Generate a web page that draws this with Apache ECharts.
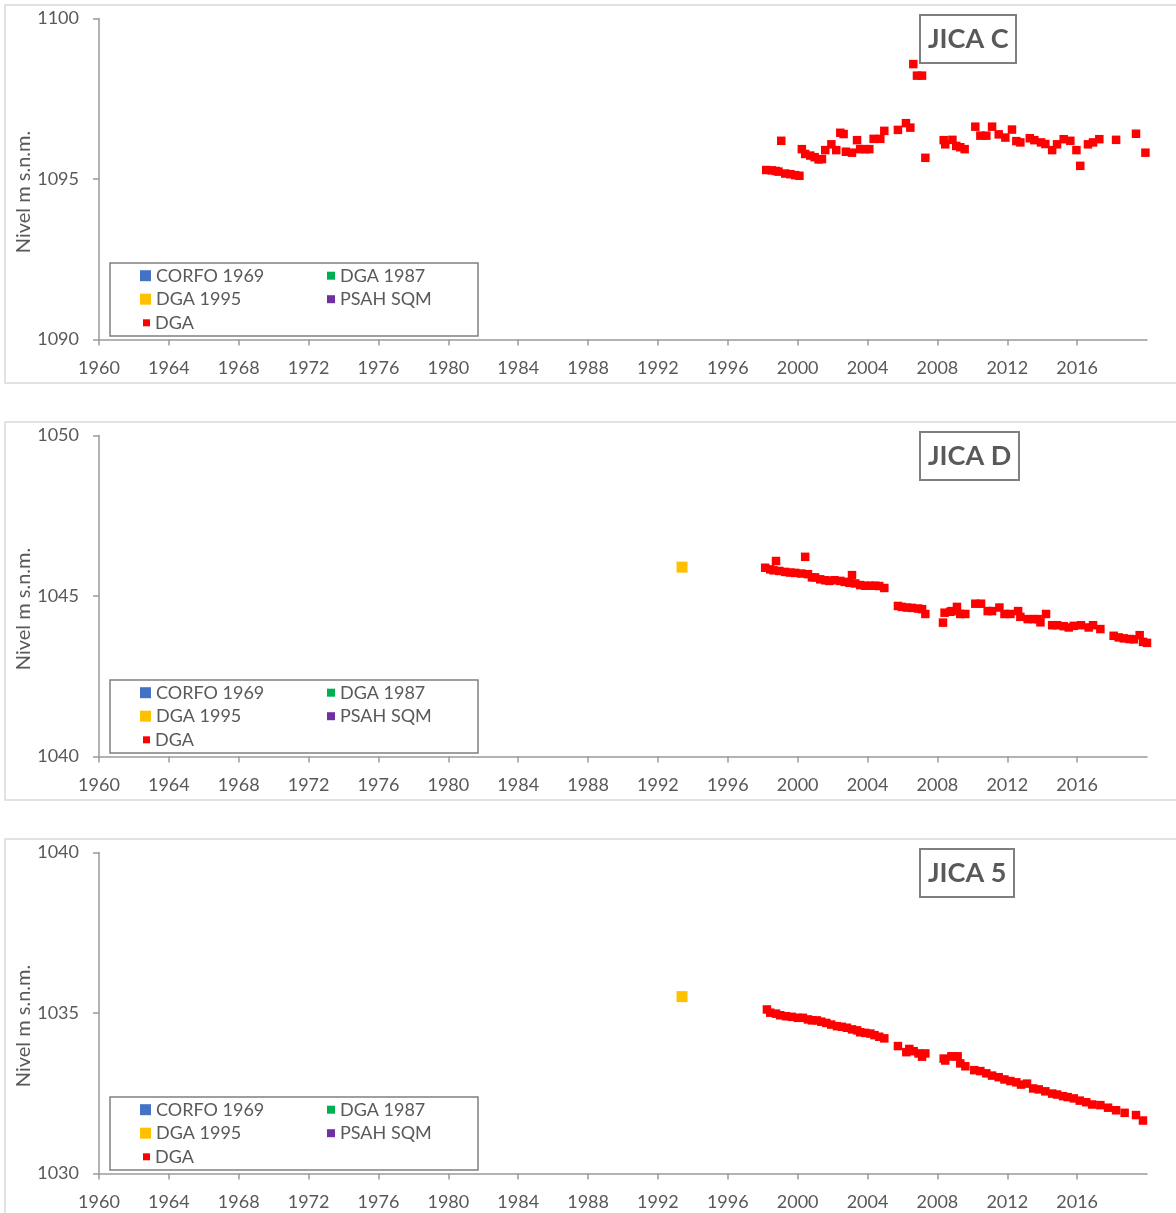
<!DOCTYPE html>
<html>
<head>
<meta charset="utf-8">
<title>Niveles JICA</title>
<script src="https://cdn.jsdelivr.net/npm/echarts@6/dist/echarts.min.js"></script>
<style>
  html, body { margin: 0; padding: 0; background: #fff; }
  #chart { width: 1176px; height: 1213px; }
</style>
</head>
<body>
<div id="chart"></div>
<script>
// Year tick labels shared by the three panels
const xTicks = [1960, 1964, 1968, 1972, 1976, 1980, 1984, 1988, 1992, 1996, 2000, 2004, 2008, 2012, 2016];

const seriesNames = ['CORFO 1969', 'DGA 1987', 'DGA 1995', 'PSAH SQM', 'DGA'];
const seriesColors = ['#4472c4', '#00b050', '#ffc000', '#7030a0', '#ff0000'];

const panelTitles = ['JICA C', 'JICA D', 'JICA 5'];
const panelYMin = [1090, 1040, 1030];
const panelYMax = [1100, 1050, 1040];

// JICA C – DGA measurements [year, m s.n.m.]
const jicaC_DGA = [
  [1998.20, 1095.28], [1998.52, 1095.27], [1998.75, 1095.25], [1998.90, 1095.23],
  [1999.06, 1096.19], [1999.29, 1095.17], [1999.58, 1095.15], [1999.86, 1095.12],
  [2000.10, 1095.10], [2000.24, 1095.93], [2000.43, 1095.78], [2000.72, 1095.73],
  [2000.97, 1095.68], [2001.20, 1095.61], [2001.39, 1095.62], [2001.58, 1095.90],
  [2001.93, 1096.08], [2002.21, 1095.90], [2002.44, 1096.44], [2002.63, 1096.40],
  [2002.76, 1095.85], [2003.11, 1095.82], [2003.40, 1096.21], [2003.58, 1095.93],
  [2003.87, 1095.93], [2004.10, 1095.93], [2004.35, 1096.25], [2004.73, 1096.25],
  [2004.96, 1096.50], [2005.74, 1096.53], [2006.20, 1096.74], [2006.45, 1096.60],
  [2006.62, 1098.58], [2006.83, 1098.22], [2007.12, 1098.22], [2007.31, 1095.66],
  [2008.36, 1096.21], [2008.45, 1096.08], [2008.86, 1096.22], [2009.08, 1096.03],
  [2009.31, 1095.99], [2009.56, 1095.93], [2010.17, 1096.63], [2010.46, 1096.35],
  [2010.80, 1096.35], [2011.13, 1096.63], [2011.51, 1096.39], [2011.89, 1096.29],
  [2012.27, 1096.54], [2012.52, 1096.18], [2012.75, 1096.14], [2013.29, 1096.27],
  [2013.55, 1096.21], [2013.93, 1096.14], [2014.18, 1096.09], [2014.57, 1095.90],
  [2014.85, 1096.08], [2015.23, 1096.24], [2015.61, 1096.19], [2015.96, 1095.90],
  [2016.18, 1095.41], [2016.62, 1096.08], [2016.91, 1096.14], [2017.27, 1096.24],
  [2018.23, 1096.22], [2019.37, 1096.41], [2019.91, 1095.82]
];

// JICA D – DGA measurements
const jicaD_DGA = [
  [1998.14, 1045.88], [1998.43, 1045.83], [1998.62, 1045.80], [1998.76, 1046.09],
  [1998.95, 1045.78], [1999.29, 1045.75], [1999.58, 1045.73], [1999.86, 1045.72],
  [2000.21, 1045.70], [2000.43, 1046.22], [2000.59, 1045.68], [2000.82, 1045.58],
  [2001.00, 1045.58], [2001.29, 1045.52], [2001.58, 1045.49], [2001.81, 1045.47],
  [2002.11, 1045.49], [2002.44, 1045.47], [2002.69, 1045.44], [2002.97, 1045.41],
  [2003.11, 1045.65], [2003.30, 1045.39], [2003.58, 1045.34], [2003.87, 1045.32],
  [2004.16, 1045.32], [2004.44, 1045.32], [2004.67, 1045.31], [2004.96, 1045.25],
  [2005.74, 1044.69], [2005.97, 1044.66], [2006.26, 1044.64], [2006.54, 1044.63],
  [2006.89, 1044.61], [2007.12, 1044.59], [2007.31, 1044.44], [2008.32, 1044.17],
  [2008.41, 1044.48], [2008.74, 1044.51], [2008.83, 1044.53], [2009.12, 1044.66],
  [2009.31, 1044.44], [2009.60, 1044.44], [2010.17, 1044.76], [2010.50, 1044.76],
  [2010.88, 1044.53], [2011.13, 1044.53], [2011.55, 1044.64], [2011.84, 1044.44],
  [2012.18, 1044.44], [2012.62, 1044.53], [2012.75, 1044.35], [2013.17, 1044.28],
  [2013.48, 1044.28], [2013.74, 1044.28], [2013.90, 1044.18], [2014.22, 1044.44],
  [2014.57, 1044.09], [2014.85, 1044.09], [2015.23, 1044.06], [2015.52, 1044.02],
  [2015.81, 1044.07], [2016.22, 1044.09], [2016.66, 1044.02], [2016.91, 1044.09],
  [2017.33, 1043.97], [2018.09, 1043.76], [2018.38, 1043.71], [2018.67, 1043.68],
  [2019.00, 1043.66], [2019.24, 1043.65], [2019.58, 1043.78], [2019.77, 1043.57],
  [2020.00, 1043.54]
];

// JICA 5 – DGA measurements
const jica5_DGA = [
  [1998.24, 1035.11], [1998.43, 1035.01], [1998.76, 1034.98], [1999.00, 1034.93],
  [1999.33, 1034.90], [1999.67, 1034.88], [2000.01, 1034.85], [2000.30, 1034.85],
  [2000.59, 1034.80], [2000.82, 1034.77], [2001.10, 1034.77], [2001.35, 1034.73],
  [2001.64, 1034.69], [2001.92, 1034.64], [2002.25, 1034.59], [2002.53, 1034.57],
  [2002.82, 1034.54], [2003.11, 1034.49], [2003.40, 1034.46], [2003.58, 1034.40],
  [2003.87, 1034.38], [2004.16, 1034.36], [2004.40, 1034.31], [2004.67, 1034.26],
  [2004.96, 1034.21], [2005.74, 1033.97], [2006.22, 1033.78], [2006.39, 1033.88],
  [2006.64, 1033.81], [2006.92, 1033.74], [2007.12, 1033.64], [2007.31, 1033.74],
  [2008.36, 1033.58], [2008.45, 1033.52], [2008.80, 1033.65], [2008.93, 1033.65],
  [2009.16, 1033.65], [2009.31, 1033.43], [2009.60, 1033.34], [2010.11, 1033.22],
  [2010.46, 1033.19], [2010.80, 1033.12], [2011.13, 1033.05], [2011.51, 1033.00],
  [2011.84, 1032.93], [2012.18, 1032.88], [2012.52, 1032.84], [2012.79, 1032.77],
  [2013.13, 1032.80], [2013.48, 1032.65], [2013.80, 1032.62], [2014.18, 1032.56],
  [2014.57, 1032.49], [2014.85, 1032.46], [2015.19, 1032.41], [2015.46, 1032.38],
  [2015.81, 1032.34], [2016.15, 1032.27], [2016.52, 1032.22], [2016.86, 1032.15],
  [2017.33, 1032.13], [2017.77, 1032.05], [2018.23, 1031.97], [2018.72, 1031.89],
  [2019.37, 1031.82], [2019.77, 1031.65]
];

// DGA 1995 campaign (single reading per well)
const jicaC_DGA1995 = [];
const jicaD_DGA1995 = [[1993.38, 1045.90]];
const jica5_DGA1995 = [[1993.38, 1035.51]];

const panelDGA = [jicaC_DGA, jicaD_DGA, jica5_DGA];
const panelDGA1995 = [jicaC_DGA1995, jicaD_DGA1995, jica5_DGA1995];

// Layout constants
const FONT = 'Lato, "Noto Sans", sans-serif';
const TEXT = '#595959';
const AXIS = '#9a9a9a';
const STEP = 417;
const GRID_LEFT = 99, GRID_TOP = 18.5, GRID_W = 1048, GRID_H = 321;

const plain = v => String(v);

const chart = echarts.init(document.getElementById('chart'), null, { renderer: 'canvas' });

const grid = [], xAxis = [], yAxis = [], series = [], title = [], legend = [], graphic = [];

panelTitles.forEach((name, i) => {
  const off = i * STEP;

  // panel frame
  graphic.push({
    type: 'rect', z: 0, silent: true,
    shape: { x: 5, y: 5 + off, width: 1200, height: 378 },
    style: { fill: '#fff', stroke: '#d9d9d9', lineWidth: 1.5 }
  });
  // legend frame
  graphic.push({
    type: 'rect', z: 1, silent: true,
    shape: { x: 110, y: 263 + off, width: 368, height: 73 },
    style: { fill: '#fff', stroke: '#808080', lineWidth: 1.5 }
  });

  grid.push({ left: GRID_LEFT, top: GRID_TOP + off, width: GRID_W, height: GRID_H });

  xAxis.push({
    type: 'value', gridIndex: i, min: 1960, max: 2020, interval: 4,
    axisLine: { show: true, lineStyle: { color: AXIS, width: 1.5 } },
    axisTick: { show: true, length: 6, lineStyle: { color: AXIS, width: 1.5 }, customValues: xTicks },
    axisLabel: { color: TEXT, fontFamily: FONT, fontSize: 18, margin: 20, customValues: xTicks, formatter: plain },
    splitLine: { show: false }
  });

  yAxis.push({
    type: 'value', gridIndex: i, min: panelYMin[i], max: panelYMax[i], interval: 5,
    name: 'Nivel m s.n.m.', nameLocation: 'middle', nameGap: 65, nameMoveOverlap: false,
    nameTextStyle: { color: TEXT, fontFamily: FONT, fontSize: 20, padding: [0, 26, 0, 0] },
    axisLine: { show: true, lineStyle: { color: AXIS, width: 1.5 } },
    axisTick: { show: true, length: 6, lineStyle: { color: AXIS, width: 1.5 } },
    axisLabel: { color: TEXT, fontFamily: FONT, fontSize: 18, margin: 20, formatter: plain },
    splitLine: { show: false }
  });

  title.push({
    text: name, left: 920, top: 15 + off,
    padding: [9, 8],
    borderColor: '#7f7f7f', borderWidth: 2,
    backgroundColor: '#fff',
    textStyle: { color: TEXT, fontFamily: FONT, fontSize: 27, fontWeight: 'bold', lineHeight: 30 }
  });

  const data = [[], [], panelDGA1995[i], [], panelDGA[i]];
  const sizes = [11, 8, 11, 8, 8.5];
  seriesNames.forEach((sn, k) => {
    series.push({
      name: sn, type: 'scatter', xAxisIndex: i, yAxisIndex: i,
      symbol: 'rect', symbolSize: sizes[k],
      itemStyle: { color: seriesColors[k], opacity: 1 },
      z: 2 + k,
      data: data[k]
    });
  });

  const legendBase = {
    orient: 'vertical', padding: 0, itemGap: 3.5, icon: 'rect',
    selectedMode: false,
    textStyle: { color: TEXT, fontFamily: FONT, fontSize: 18, lineHeight: 20 }
  };
  legend.push(Object.assign({}, legendBase, {
    data: ['CORFO 1969', 'DGA 1995'], left: 140, top: 265.7 + off, itemWidth: 11, itemHeight: 11
  }));
  legend.push(Object.assign({}, legendBase, {
    data: ['DGA 1987', 'PSAH SQM'], left: 327, top: 265.7 + off, itemWidth: 8, itemHeight: 8
  }));
  legend.push(Object.assign({}, legendBase, {
    data: ['DGA'], left: 143, top: 312.8 + off, itemWidth: 7, itemHeight: 7
  }));
});

chart.setOption({
  backgroundColor: '#fff',
  animation: false,
  graphic: graphic,
  title: title,
  legend: legend,
  grid: grid,
  xAxis: xAxis,
  yAxis: yAxis,
  series: series
});
</script>
</body>
</html>
